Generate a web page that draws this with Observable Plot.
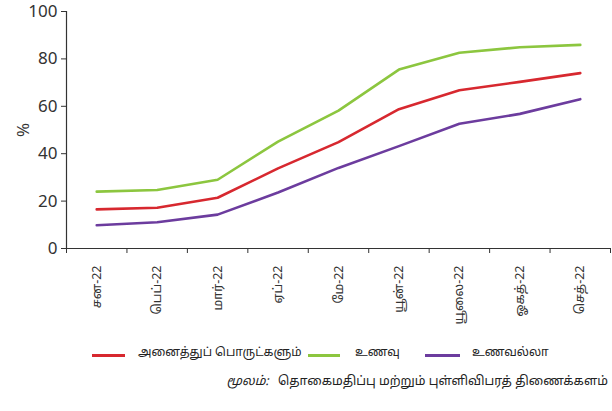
<!DOCTYPE html>
<html>
<head>
<meta charset="utf-8">
<script src="https://cdn.jsdelivr.net/npm/d3@7"></script>
<script src="https://cdn.jsdelivr.net/npm/@observablehq/plot@0.6"></script>
<style>
  html, body { margin: 0; padding: 0; background: #fff; }
  body { width: 612px; height: 411px; overflow: hidden; font-family: "Noto Sans Tamil", "Lato", "Noto Sans", sans-serif; }
  #chart { position: relative; }
  .legend { position: absolute; top: 345px; left: 0; width: 612px; height: 20px; font-size: 12px; color: #222; }
  .legend .sw { position: absolute; top: 9px; height: 3px; }
  .legend .tx { position: absolute; top: 1px; white-space: nowrap; }
  .caption { position: absolute; top: 374px; right: 4px; font-size: 12.5px; color: #222; white-space: nowrap; }
  .caption i { margin-right: 6px; }
</style>
</head>
<body>
<div id="chart"></div>
<div class="legend" id="legend"></div>
<div class="caption"><i>மூலம்:</i> தொகைமதிப்பு மற்றும் புள்ளிவிபரத் திணைக்களம்</div>
<script>
const months = ["சன-22", "பெப்-22", "மார்-22", "ஏப்-22", "மே-22", "யூன்-22", "யூலை-22", "ஓகத்-22", "செத்-22"];
const seriesNames = ["அனைத்துப் பொருட்களும்", "உணவு", "உணவல்லா"];
const seriesColors = ["#d7282f", "#8cc63f", "#6c3c9e"];
const allItems = [16.5, 17.2, 21.4, 33.8, 44.9, 58.8, 66.8, 70.3, 74.0];
const food     = [24.0, 24.7, 29.0, 45.1, 58.2, 75.5, 82.6, 84.9, 85.9];
const nonFood  = [9.8, 11.1, 14.3, 23.6, 34.0, 43.2, 52.6, 56.8, 63.0];
const yTicks = [0, 20, 40, 60, 80, 100];

const seriesValues = [allItems, food, nonFood];
const data = [];
seriesValues.forEach((vals, s) => vals.forEach((v, i) => data.push({series: seriesNames[s], i, month: months[i], value: v})));
const idx = months.map((_, i) => i);
const bounds = d3.range(months.length + 1).map(i => i - 0.5);

const plot = Plot.plot({
  width: 612,
  height: 335,
  marginLeft: 66,
  marginRight: 2,
  marginTop: 11,
  marginBottom: 87,
  style: {fontFamily: "'Noto Sans Tamil', Lato, 'Noto Sans', sans-serif", color: "#333", background: "#fff"},
  x: {type: "linear", domain: [-0.5, months.length - 0.5]},
  y: {domain: [0, 100]},
  color: {domain: seriesNames, range: seriesColors},
  marks: [
    Plot.axisY({ticks: yTicks, tickSize: 5, tickPadding: 4, fontSize: 17, label: "%", labelAnchor: "center", labelArrow: "none", labelOffset: 50, fill: "#333"}),
    Plot.ruleX([-0.5], {y1: 0, y2: 100, stroke: "#333", strokeWidth: 1.2}),
    Plot.axisX({ticks: bounds, tickFormat: () => "", tickSize: 5, label: null, stroke: "#333"}),
    Plot.axisX({ticks: idx, tickFormat: i => months[i], tickSize: 0, tickPadding: 17, tickRotate: -90, fontSize: 12.5, label: null, fill: "#333"}),
    Plot.ruleY([0], {stroke: "#333", strokeWidth: 1.2}),
    Plot.line(data, {x: "i", y: "value", z: "series", stroke: "series", strokeWidth: 2.6, curve: "linear"})
  ]
});
document.getElementById("chart").appendChild(plot);

const legend = document.getElementById("legend");
const swatchLeft = [92, 308, 425];
const swatchWidth = [33, 32, 35];
const textLeft = [138, 355, 472];
seriesNames.forEach((n, k) => {
  const sw = document.createElement("div");
  sw.className = "sw";
  sw.style.left = swatchLeft[k] + "px";
  sw.style.width = swatchWidth[k] + "px";
  sw.style.background = seriesColors[k];
  legend.appendChild(sw);
  const tx = document.createElement("div");
  tx.className = "tx";
  tx.style.left = textLeft[k] + "px";
  tx.textContent = n;
  legend.appendChild(tx);
});
</script>
</body>
</html>
